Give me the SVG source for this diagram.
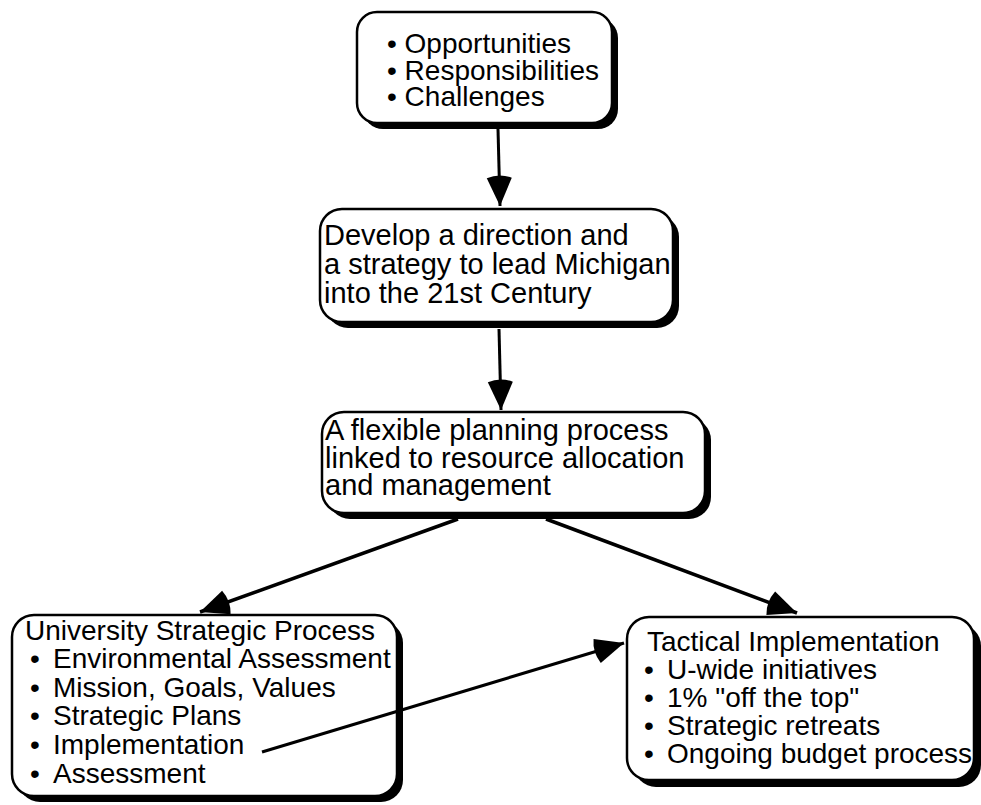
<svg xmlns="http://www.w3.org/2000/svg" width="981" height="805" viewBox="0 0 981 805">
  <style>
    .shadow { fill: #000; }
    .box { fill: #fff; stroke: #000; stroke-width: 2.5; }
    .t { font-family: "Liberation Sans", Arial, Helvetica, sans-serif; fill: #000; }
    .t28 { font-size: 28px; }
    .t29 { font-size: 29px; }
    .conn { stroke: #000; fill: none; stroke-linecap: butt; }
  </style>
  <defs>
    <!-- solid arrowhead with a slightly rounded back -->
    <marker id="head" markerUnits="userSpaceOnUse" markerWidth="40" markerHeight="40"
            viewBox="-36 -16 40 32" refX="0" refY="0" orient="auto">
      <path d="M0,0 L-28,-12.5 Q-33,0 -28,12.5 Z" fill="#000"/>
    </marker>
  </defs>

  <rect width="981" height="805" fill="#fff"/>

  <!-- top box -->
  <g id="n1">
    <rect class="shadow" x="363" y="18" width="255" height="111" rx="20"/>
    <rect class="box" x="357" y="12" width="255" height="111" rx="20"/>
    <text class="t t28" x="387" y="53">• Opportunities</text>
    <text class="t t28" x="387" y="80">• Responsibilities</text>
    <text class="t t28" x="387" y="106">• Challenges</text>
  </g>

  <!-- direction box -->
  <g id="n2">
    <rect class="shadow" x="326" y="215" width="353" height="113" rx="22"/>
    <rect class="box" x="320" y="209" width="353" height="113" rx="22"/>
    <text class="t t29" x="324" y="245">Develop a direction and</text>
    <text class="t t29" x="324" y="274">a strategy to lead Michigan</text>
    <text class="t t29" x="324" y="303">into the 21st Century</text>
  </g>

  <!-- planning process box -->
  <g id="n3">
    <rect class="shadow" x="328" y="418" width="383" height="101" rx="22"/>
    <rect class="box" x="322" y="412" width="383" height="101" rx="22"/>
    <text class="t t29" x="325" y="440">A flexible planning process</text>
    <text class="t t29" x="325" y="468">linked to resource allocation</text>
    <text class="t t29" x="325" y="495">and management</text>
  </g>

  <!-- strategic process box -->
  <g id="n4">
    <rect class="shadow" x="18" y="621" width="385" height="181" rx="22"/>
    <rect class="box" x="12" y="615" width="385" height="181" rx="22"/>
    <text class="t t28" x="25" y="640">University Strategic Process</text>
    <g class="t t28">
      <text x="30" y="668">•</text><text x="53" y="668">Environmental Assessment</text>
      <text x="30" y="697">•</text><text x="53" y="697">Mission, Goals, Values</text>
      <text x="30" y="725">•</text><text x="53" y="725">Strategic Plans</text>
      <text x="30" y="754">•</text><text x="53" y="754">Implementation</text>
      <text x="30" y="783">•</text><text x="53" y="783">Assessment</text>
    </g>
  </g>

  <!-- tactical implementation box -->
  <g id="n5">
    <rect class="shadow" x="634" y="624" width="347" height="163" rx="22"/>
    <rect class="box" x="627" y="617" width="347" height="163" rx="22"/>
    <text class="t t28" x="647" y="651">Tactical Implementation</text>
    <g class="t t28">
      <text x="644" y="679">•</text><text x="667" y="679">U-wide initiatives</text>
      <text x="644" y="707">•</text><text x="667" y="707">1% "off the top"</text>
      <text x="644" y="735">•</text><text x="667" y="735">Strategic retreats</text>
      <text x="644" y="763">•</text><text x="667" y="763">Ongoing budget process</text>
    </g>
  </g>

  <!-- connectors -->
  <g id="connectors">
    <line class="conn" stroke-width="3" x1="498" y1="129" x2="500" y2="206" marker-end="url(#head)"/>
    <line class="conn" stroke-width="3" x1="499" y1="329" x2="501" y2="410" marker-end="url(#head)"/>
    <line class="conn" stroke-width="3.5" x1="458" y1="519" x2="200" y2="612" marker-end="url(#head)"/>
    <line class="conn" stroke-width="3.5" x1="546" y1="519" x2="797" y2="613" marker-end="url(#head)"/>
    <line class="conn" stroke-width="3" x1="262" y1="752" x2="624" y2="643" marker-end="url(#head)"/>
  </g>
</svg>
